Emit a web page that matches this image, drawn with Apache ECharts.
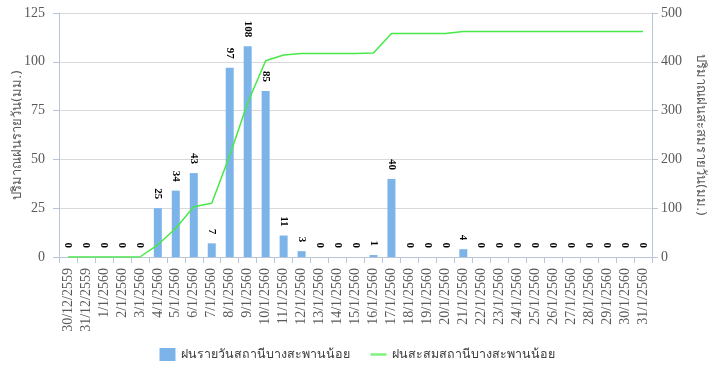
<!DOCTYPE html>
<html><head><meta charset="utf-8">
<script src="https://cdn.jsdelivr.net/npm/echarts@6/dist/echarts.min.js"></script>
<style>html,body{margin:0;padding:0;background:#fff}#c{width:714px;height:365px}</style>
</head><body><div id="c"></div>
<script>
var categories = ['30/12/2559','31/12/2559','1/1/2560','2/1/2560','3/1/2560','4/1/2560','5/1/2560','6/1/2560','7/1/2560','8/1/2560','9/1/2560','10/1/2560','11/1/2560','12/1/2560','13/1/2560','14/1/2560','15/1/2560','16/1/2560','17/1/2560','18/1/2560','19/1/2560','20/1/2560','21/1/2560','22/1/2560','23/1/2560','24/1/2560','25/1/2560','26/1/2560','27/1/2560','28/1/2560','29/1/2560','30/1/2560','31/1/2560'];
var dailyRain = [0,0,0,0,0,25,34,43,7,97,108,85,11,3,0,0,0,1,40,0,0,0,4,0,0,0,0,0,0,0,0,0,0];
var cumulativeRain = [0,0,0,0,0,25,59,103,110,208,316,402,414,417,417,417,417,418,458,458,458,458,462,462,462,462,462,462,462,462,462,462,462];
var leftTicks = {min:0, max:125, interval:25};
var rightTicks = {min:0, max:500, interval:100};
var seriesNames = ['ฝนรายวันสถานีบางสะพานน้อย','ฝนสะสมสถานีบางสะพานน้อย'];
var axisNames = ['ปริมาณฝนรายวัน(มม.)','ปริมาณฝนสะสมรายวัน(มม.)'];

var chart = echarts.init(document.getElementById('c'));
var axisFont = 'Liberation Serif, Times New Roman, serif';
chart.setOption({
  animation:false,
  grid:{left:59,right:62,top:13,bottom:108,outerBoundsMode:'none',containLabel:false},
  legend:{
    bottom:-1,left:'center',itemGap:21,itemWidth:16,itemHeight:13,
    textStyle:{color:'#404040',fontSize:12.5,fontFamily:'Tahoma, DejaVu Sans, sans-serif'},
    data:[{name:seriesNames[0],icon:'rect'},{name:seriesNames[1],icon:'path://M0,0H10V1.6H0Z'}]
  },
  xAxis:{
    type:'category',data:categories,
    axisLine:{lineStyle:{color:'#b8c5d6'}},
    axisTick:{show:true,length:6,lineStyle:{color:'#b8c5d6'}},
    axisLabel:{rotate:90,interval:0,color:'#595959',fontSize:14,fontFamily:axisFont,margin:11}
  },
  yAxis:[{
    type:'value',min:leftTicks.min,max:leftTicks.max,interval:leftTicks.interval,
    name:axisNames[0],nameLocation:'middle',nameRotate:90,nameGap:35,nameMoveOverlap:false,
    nameTextStyle:{color:'#595959',fontSize:13,fontFamily:'Tahoma, DejaVu Sans, sans-serif'},
    axisLine:{show:true,lineStyle:{color:'#b8c5d6'}},
    axisTick:{show:true,length:6,inside:false,lineStyle:{color:'#b8c5d6'}},
    axisLabel:{color:'#595959',fontSize:14,fontFamily:axisFont,margin:14},
    splitLine:{lineStyle:{color:'#d9d9d9'}}
  },{
    type:'value',min:rightTicks.min,max:rightTicks.max,interval:rightTicks.interval,
    name:axisNames[1],nameLocation:'middle',nameRotate:-90,nameGap:42,nameMoveOverlap:false,
    nameTextStyle:{color:'#595959',fontSize:13,fontFamily:'Tahoma, DejaVu Sans, sans-serif'},
    axisLine:{show:true,lineStyle:{color:'#b8c5d6'}},
    axisTick:{show:true,length:6,lineStyle:{color:'#b8c5d6'}},
    axisLabel:{color:'#595959',fontSize:14,fontFamily:axisFont,margin:9},
    splitLine:{show:false}
  }],
  series:[{
    name:seriesNames[0],type:'bar',yAxisIndex:0,data:dailyRain,barWidth:8,
    itemStyle:{color:'#7cb4e9'},
    label:{show:true,position:'top',rotate:-90,align:'right',verticalAlign:'middle',distance:9,
      color:'#000',fontWeight:'bold',fontSize:11,fontFamily:axisFont}
  },{
    name:seriesNames[1],type:'line',yAxisIndex:1,data:cumulativeRain,
    symbol:'none',lineStyle:{color:'#47e847',width:1.5},itemStyle:{color:'#7ff27f'}
  }]
});
</script></body></html>
